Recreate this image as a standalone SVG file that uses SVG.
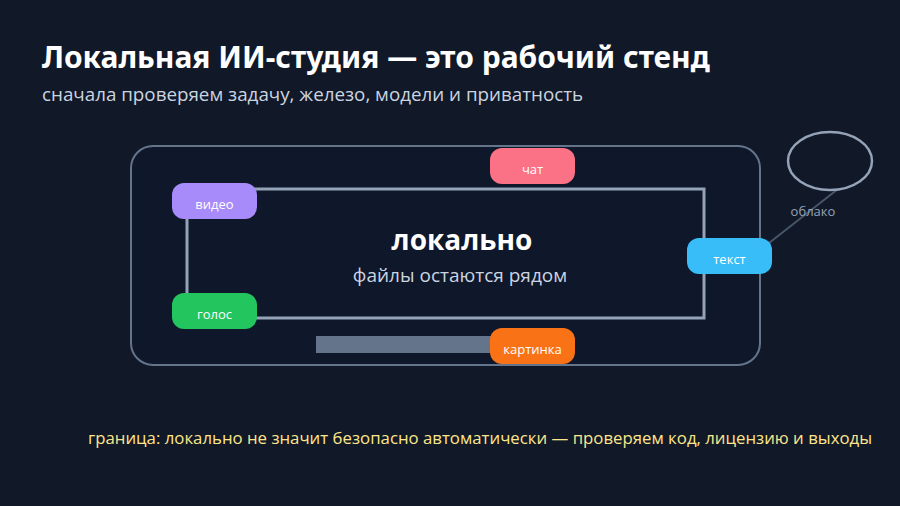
<svg xmlns="http://www.w3.org/2000/svg" width="900" height="506" viewBox="0 0 900 506">
<style>
text{font-family:"Open Sans","Noto Sans",sans-serif}
.pill text{fill:#fff;font-size:13px;text-anchor:middle}
.ln{stroke:#94a3b8;stroke-width:3;fill:none}
</style>
<rect width="900" height="506" fill="#111827"/>
<text x="42" y="68" font-size="30" font-weight="bold" fill="#fff" style="font-family:'Noto Sans',sans-serif">Локальная ИИ-студия — это рабочий стенд</text>
<text x="42" y="101" font-size="18.8" fill="#cbd5e1">сначала проверяем задачу, железо, модели и приватность</text>
<rect x="131" y="146" width="629" height="219" rx="22" fill="#0f172a" stroke="#64748b" stroke-width="2"/>
<g id="connectors">
<rect class="ln" x="187" y="189" width="517" height="129"/>
<rect x="316" y="336" width="180" height="17" fill="#64748b"/>
<line x1="760" y1="250" x2="838" y2="189" stroke="#475569" stroke-width="2"/>
</g>
<g id="center">
<text x="462" y="250" font-size="28" font-weight="bold" fill="#fff" text-anchor="middle">локально</text>
<text x="460" y="282" font-size="19" fill="#cbd5e1" text-anchor="middle">файлы остаются рядом</text>
</g>
<g id="cloud">
<ellipse cx="830" cy="161" rx="42" ry="29" fill="none" stroke="#94a3b8" stroke-width="2.5"/>
<text x="813" y="216" font-size="13" fill="#94a3b8" text-anchor="middle">облако</text>
</g>
<g id="video" class="pill"><rect x="172" y="183" width="85" height="36" rx="12" fill="#a78bfa"/><text x="214.5" y="209">видео</text></g>
<g id="chat" class="pill"><rect x="490" y="148" width="85" height="36" rx="12" fill="#fb7185"/><text x="532.5" y="174">чат</text></g>
<g id="text" class="pill"><rect x="687" y="238" width="85" height="36" rx="12" fill="#38bdf8"/><text x="729.5" y="264">текст</text></g>
<g id="voice" class="pill"><rect x="172" y="293" width="85" height="36" rx="12" fill="#22c55e"/><text x="214.5" y="319">голос</text></g>
<g id="image" class="pill"><rect x="490" y="328" width="85" height="36" rx="12" fill="#f97316"/><text x="532.5" y="354">картинка</text></g>
<text x="88" y="444" font-size="16.8" fill="#fde68a">граница: локально не значит безопасно автоматически — проверяем код, лицензию и выходы</text>
</svg>
